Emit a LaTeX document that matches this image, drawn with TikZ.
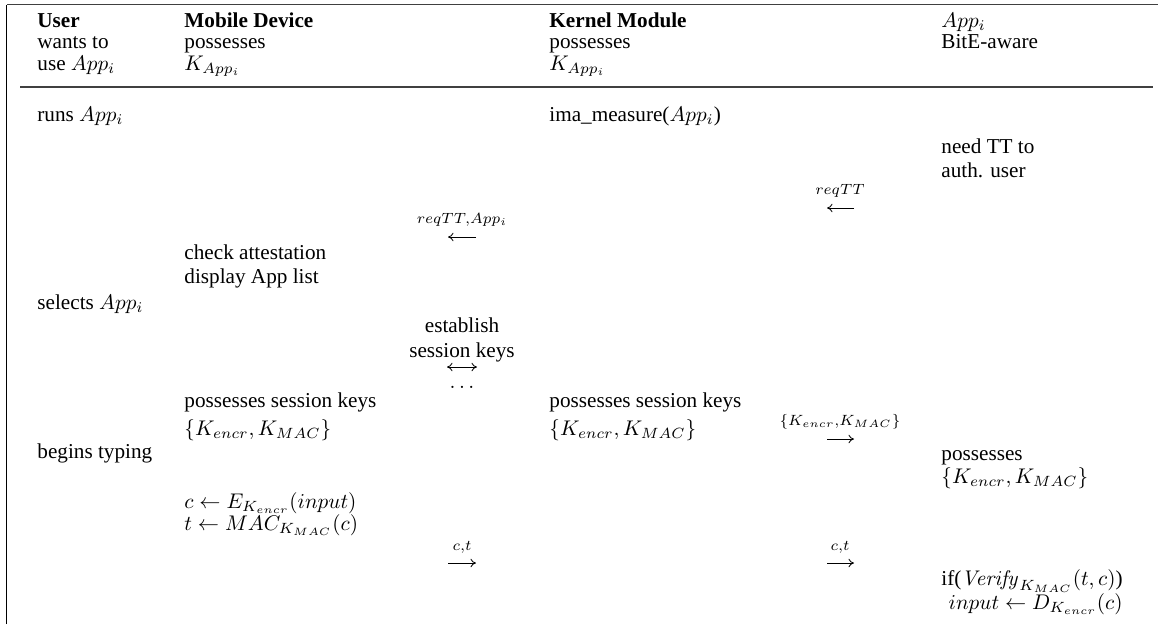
\documentclass[tikz,border=0pt]{standalone}
\usepackage[no-math]{fontspec}
\setmainfont{Liberation Serif}
\usetikzlibrary{arrows.meta,calc}
\begin{document}
\begin{tikzpicture}[x=0.4717pt,y=-0.4717pt,
  txt/.style={anchor=base west,inner sep=0pt},
  ctr/.style={anchor=base,inner sep=0pt},
  lbl/.style={anchor=base,inner sep=0pt},
  msg/.style={line width=0.4pt,-{Computer Modern Rightarrow[length=2.6pt,width=4pt]}},
  bimsg/.style={line width=0.4pt,{Computer Modern Rightarrow[length=2.6pt,width=4pt]}-{Computer Modern Rightarrow[length=2.6pt,width=4pt]}},
  rule/.style={line width=0.6pt}]
\useasboundingbox (0,0) rectangle (1158,624);
% frame
\coordinate (tl) at (6.5,4.5);
\coordinate (tr) at (1158,4.5);
\coordinate (bl) at (6.5,624);
\coordinate (sl) at (20,87);
\coordinate (sr) at (1153,87);
\draw[rule] (bl) -- (tl);
\draw[rule,black!75] (tl) -- (tr);
\draw[rule,black!75] (sl) -- (sr);
% header
\node[txt,font=\bfseries] (u1) at (37,27) {User};
\node[txt] (u2) at (37,48.5) {wants to};
\node[txt] (u3) at (37,70) {use $App_i$};
\node[txt,font=\bfseries] (m1) at (184,27) {Mobile Device};
\node[txt] (m2) at (184,48.5) {possesses};
\node[txt] (m3) at (184,70) {$K_{App_i}$};
\node[txt,font=\bfseries] (k1) at (549,27) {Kernel Module};
\node[txt] (k2) at (549,48.5) {possesses};
\node[txt] (k3) at (549,70) {$K_{App_i}$};
\node[txt] (a1) at (941,27) {$App_i$};
\node[txt] (a2) at (941,48.5) {BitE-aware};
% user column
\node[txt] (ub1) at (37,121) {runs $App_i$};
\node[txt] (ub2) at (37,309) {selects $App_i$};
\node[txt] (ub3) at (37,458) {begins typing};
% mobile column
\node[txt] (mb1) at (184,259) {check attestation};
\node[txt] (mb2) at (184,283) {display App list};
\node[txt] (mb3) at (184,407) {possesses session keys};
\node[txt] (mb4) at (184,435) {$\{K_{encr},K_{MAC}\}$};
\node[txt] (mb5) at (184,508) {$c\leftarrow E_{K_{encr}}(input)$};
\node[txt] (mb6) at (184,530) {$t\leftarrow MAC_{K_{MAC}}(c)$};
% kernel column
\node[txt] (kb1) at (549,121) {ima\_measure($App_i$)};
\node[txt] (kb2) at (549,407) {possesses session keys};
\node[txt] (kb3) at (549,435) {$\{K_{encr},K_{MAC}\}$};
% app column
\node[txt] (ab1) at (941,153) {need TT to};
\node[txt] (ab2) at (941,177) {auth. user};
\node[txt] (ab3) at (941,460) {possesses};
\node[txt] (ab4) at (941,483) {$\{K_{encr},K_{MAC}\}$};
\node[txt] (ab5) at (941,585) {if($\mathit{Verify}_{K_{MAC}}(t,c)$)};
\node[anchor=base east,inner sep=0pt] (ab6) at ($(ab5.base east)+(0,24)$) {$input\leftarrow D_{K_{encr}}(c)$};
% messages between mobile device and kernel module
\coordinate (mk1a) at (448,237); \coordinate (mk1b) at (476,237);
\node[lbl] (mk1l) at (462,223) {$\scriptstyle reqTT,App_i$};
\draw[msg] (mk1b) -- (mk1a);
\node[ctr] (est1) at (462,332) {establish};
\node[ctr] (est2) at (462,357) {session keys};
\coordinate (mk2a) at (447,367); \coordinate (mk2b) at (477,367);
\draw[bimsg] (mk2a) -- (mk2b);
\node[ctr] (dots) at (462,388) {$\ldots$};
\coordinate (mk3a) at (448,563); \coordinate (mk3b) at (476,563);
\node[lbl] (mk3l) at (462,550) {$\scriptstyle c,t$};
\draw[msg] (mk3a) -- (mk3b);
% messages between kernel module and app
\coordinate (ka1a) at (827,208); \coordinate (ka1b) at (854,208);
\node[lbl] (ka1l) at (840,194) {$\scriptstyle reqTT$};
\draw[msg] (ka1b) -- (ka1a);
\coordinate (ka2a) at (827,439); \coordinate (ka2b) at (854,439);
\node[lbl] (ka2l) at (840,425) {$\scriptstyle \{K_{encr},K_{MAC}\}$};
\draw[msg] (ka2a) -- (ka2b);
\coordinate (ka3a) at (827,563); \coordinate (ka3b) at (854,563);
\node[lbl] (ka3l) at (840,550) {$\scriptstyle c,t$};
\draw[msg] (ka3a) -- (ka3b);
\end{tikzpicture}
\end{document}
